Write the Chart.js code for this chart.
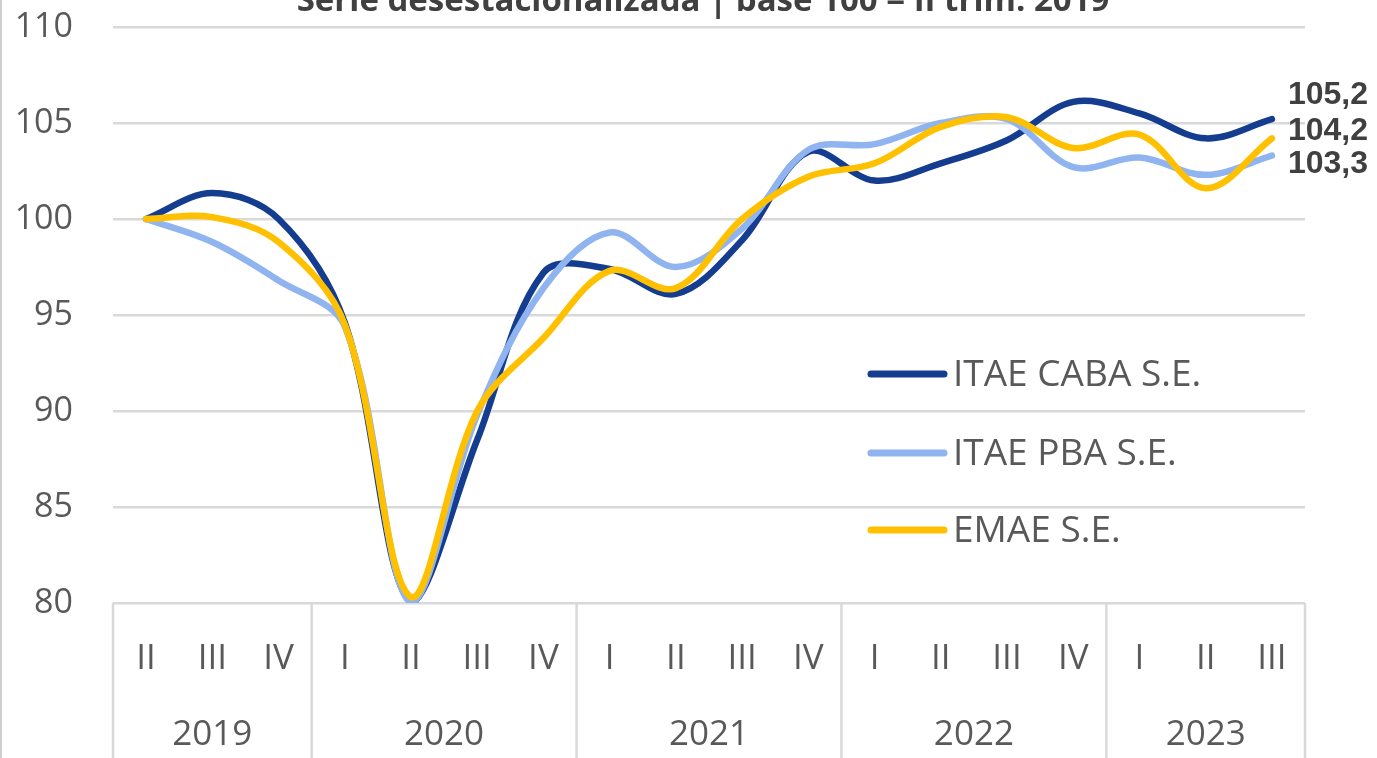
<!DOCTYPE html>
<html lang="es">
<head>
<meta charset="utf-8">
<title>ITAE CABA / PBA / EMAE</title>
<script src="https://cdn.jsdelivr.net/npm/chart.js@4.4.1/dist/chart.umd.min.js"></script>
<style>
    html, body { margin: 0; padding: 0; background: #fff; }
    #wrap { position: relative; width: 1377px; height: 758px; }
</style>
</head>
<body>
<div id="wrap"><canvas id="chartItae"></canvas></div>
<script>
// trimestres (eje X) y años que los agrupan
const quarters = ['II', 'III', 'IV', 'I', 'II', 'III', 'IV', 'I', 'II', 'III', 'IV', 'I', 'II', 'III', 'IV', 'I', 'II', 'III'];
const years = ['2019', '2020', '2021', '2022', '2023'];
const quartersPerYear = [3, 4, 4, 4, 3];

// series desestacionalizadas, base 100 = II trim. 2019
const itaeCaba = [100, 101.35, 100.0, 94.6, 80.0, 88.5, 97.2, 97.4, 96.1, 98.9, 103.5, 102.0, 102.9, 104.1, 106.1, 105.5, 104.2, 105.2];
const itaePba = [100, 98.8, 96.8, 94.4, 80.0, 89.8, 96.4, 99.3, 97.5, 99.5, 103.6, 103.9, 105.0, 105.2, 102.7, 103.2, 102.3, 103.3];
const emae = [100, 100.1, 98.8, 94.5, 80.3, 90.0, 93.8, 97.3, 96.4, 100.0, 102.2, 102.9, 104.8, 105.3, 103.7, 104.4, 101.6, 104.2];

const yTicks = { min: 80, max: 110, step: 5 };
const title = 'Serie desestacionalizada | base 100 = II trim. 2019';

const GRID = '#d9d9d9';
const TXT = '#595959';
const FONT = '"Open Sans", "DejaVu Sans", sans-serif';

const series = [
    { label: 'ITAE CABA S.E.', data: itaeCaba, color: '#143c8f', labelDy: -24, order: 3 },
    { label: 'ITAE PBA S.E.', data: itaePba, color: '#8fb4ef', labelDy: 9, order: 2 },
    { label: 'EMAE S.E.', data: emae, color: '#ffc000', labelDy: -7, order: 1 },
];

// título (cortado arriba), años, separadores, leyenda y rótulos finales
const decorPlugin = {
    id: 'decor',
    afterDraw(chart) {
        const ctx = chart.ctx;
        const area = chart.chartArea;
        const xs = chart.scales.x;
        const H = chart.height;
        ctx.save();

        // borde izquierdo
        ctx.strokeStyle = '#cfcfcf';
        ctx.lineWidth = 2;
        ctx.beginPath();
        ctx.moveTo(1, 0);
        ctx.lineTo(1, H);
        ctx.stroke();

        // título
        ctx.fillStyle = '#404040';
        ctx.font = 'bold 33px ' + FONT;
        ctx.textAlign = 'center';
        ctx.textBaseline = 'alphabetic';
        ctx.fillText(title, 703, 11);

        // separadores de años y rótulos de años
        const half = (xs.getPixelForValue(1) - xs.getPixelForValue(0)) / 2;
        ctx.strokeStyle = GRID;
        ctx.lineWidth = 2.5;
        let idx = 0;
        const edges = [area.left];
        years.forEach((y, i) => {
            const first = idx;
            const last = idx + quartersPerYear[i] - 1;
            idx += quartersPerYear[i];
            const x0 = xs.getPixelForValue(first) - half;
            const x1 = xs.getPixelForValue(last) + half;
            edges.push(x1);
            ctx.fillStyle = TXT;
            ctx.font = '35px ' + FONT;
            ctx.textAlign = 'center';
            ctx.textBaseline = 'middle';
            ctx.fillText(y, (x0 + x1) / 2, 735);
        });
        edges.forEach(x => {
            ctx.beginPath();
            ctx.moveTo(x, area.bottom);
            ctx.lineTo(x, H);
            ctx.stroke();
        });

        // leyenda
        const legendRows = [374, 453, 530];
        series.forEach((s, i) => {
            const y = legendRows[i];
            ctx.strokeStyle = s.color;
            ctx.lineWidth = 7;
            ctx.lineCap = 'round';
            ctx.beginPath();
            ctx.moveTo(871, y);
            ctx.lineTo(944, y);
            ctx.stroke();
            ctx.fillStyle = TXT;
            ctx.font = '37px ' + FONT;
            ctx.textAlign = 'left';
            ctx.textBaseline = 'middle';
            ctx.fillText(s.label, 953, y + 1);
        });

        // valores finales
        series.forEach((s, i) => {
            const meta = chart.getDatasetMeta(i);
            const pt = meta.data[meta.data.length - 1];
            const v = s.data[s.data.length - 1];
            ctx.fillStyle = '#404040';
            ctx.font = 'bold 32px "Liberation Sans", Arial, sans-serif';
            ctx.textAlign = 'left';
            ctx.textBaseline = 'middle';
            ctx.fillText(v.toFixed(1).replace('.', ','), pt.x + 16, pt.y + s.labelDy);
        });

        ctx.restore();
    }
};

new Chart(document.getElementById('chartItae').getContext('2d'), {
    type: 'line',
    data: {
        labels: quarters,
        datasets: series.map(s => ({
            label: s.label,
            data: s.data,
            borderColor: s.color,
            backgroundColor: s.color,
            borderWidth: 6.5,
            borderCapStyle: 'round',
            borderJoinStyle: 'round',
            tension: 0.35,
            pointRadius: 0,
            fill: false,
            order: s.order
        }))
    },
    options: {
        responsive: true,
        maintainAspectRatio: false,
        animation: false,
        devicePixelRatio: 1,
        layout: { padding: { top: 27, right: 72, left: 0, bottom: 0 } },
        plugins: {
            legend: { display: false },
            tooltip: { enabled: false },
            title: { display: false }
        },
        scales: {
            x: {
                offset: true,
                grid: { display: false },
                border: { display: false },
                ticks: {
                    color: TXT,
                    font: { family: FONT, size: 35 },
                    padding: 27,
                    autoSkip: false,
                    maxRotation: 0
                },
                afterFit(scale) { scale.height = 155; }
            },
            y: {
                min: yTicks.min,
                max: yTicks.max,
                grid: { color: GRID, lineWidth: 2.5, drawTicks: false },
                border: { display: false },
                ticks: {
                    stepSize: yTicks.step,
                    color: TXT,
                    font: { family: FONT, size: 34 },
                    padding: 40
                },
                afterFit(scale) {
                    scale.width = 113;
                    scale.paddingTop = 0;
                    scale.paddingBottom = 0;
                }
            }
        }
    },
    plugins: [decorPlugin]
});
</script>
</body>
</html>
